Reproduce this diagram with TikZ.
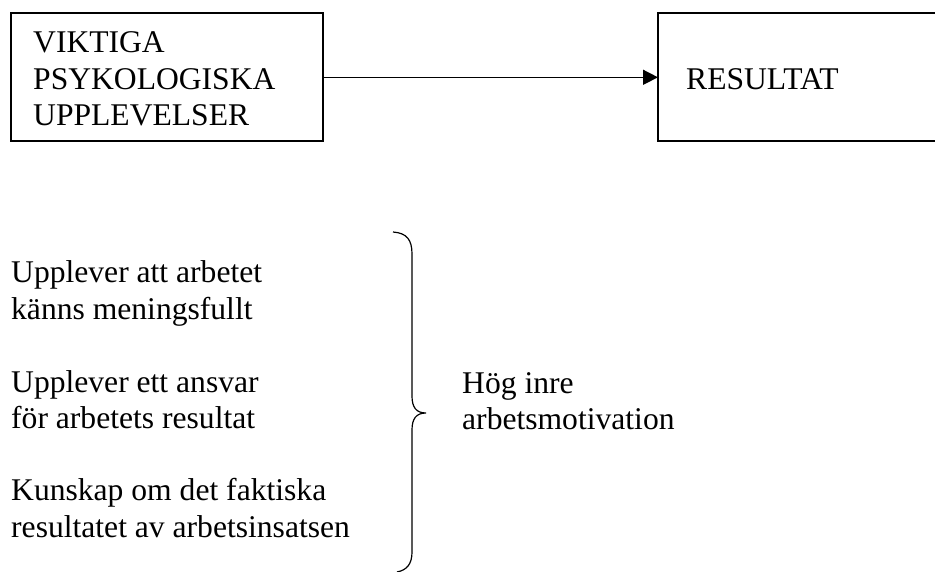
\documentclass[tikz,border=0pt]{standalone}
\usepackage{fontspec}
\setmainfont{Liberation Serif}
\usetikzlibrary{arrows.meta}
\begin{document}
\begin{tikzpicture}[x=1pt,y=-1pt,
  lbl/.style={anchor=base west,inner sep=0pt,font=\fontsize{31.6}{36.5}\selectfont},
  boxline/.style={draw=black,line width=1.5pt},
  conn/.style={line width=1.5pt,-{Triangle[length=15pt,width=15pt]}},
  bracestyle/.style={line width=1.2pt}]
\clip (0,0) rectangle (935,572);
\fill[white] (0,0) rectangle (935,572);
% boxes
\coordinate (lbTL) at (11,13);
\coordinate (lbBR) at (323,141);
\draw[boxline] (lbTL) rectangle (lbBR);
\coordinate (rbTL) at (658,13);
\coordinate (rbBR) at (945,141);
\draw[boxline] (rbTL) rectangle (rbBR);
\coordinate (lbE) at (323,77.3);
\coordinate (rbW) at (658,77.3);
\draw[conn] (lbE) -- (rbW);
% box texts
\node[lbl] (psy) at (33,53) {\begin{tabular}[t]{@{}l@{}}VIKTIGA\\PSYKOLOGISKA\\UPPLEVELSER\end{tabular}};
\node[lbl] (res) at (686,90) {RESULTAT};
% lower texts
\node[lbl] (t1) at (11,283) {\begin{tabular}[t]{@{}l@{}}Upplever att arbetet\\känns meningsfullt\end{tabular}};
\node[lbl] (t2) at (11,392) {\begin{tabular}[t]{@{}l@{}}Upplever ett ansvar\\för arbetets resultat\end{tabular}};
\node[lbl] (t3) at (11,500.5) {\begin{tabular}[t]{@{}l@{}}Kunskap om det faktiska\\resultatet av arbetsinsatsen\end{tabular}};
\node[lbl] (hog) at (462,393) {\begin{tabular}[t]{@{}l@{}}Hög inre\\arbetsmotivation\end{tabular}};
% brace
\draw[bracestyle] (393,232) .. controls (407,233) and (412,240) .. (412,254)
  -- (412,396) .. controls (412,407) and (416,413) .. (426,413)
  .. controls (416,413) and (412,419) .. (412,430)
  -- (412,552) .. controls (412,564) and (407,570) .. (397,572);
\end{tikzpicture}
\end{document}
